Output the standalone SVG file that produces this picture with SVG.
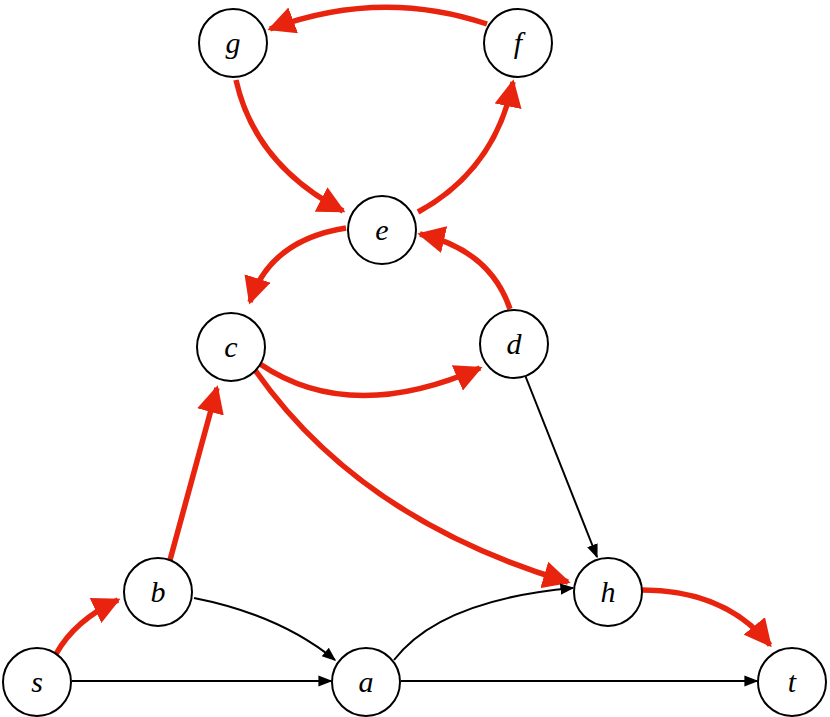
<svg xmlns="http://www.w3.org/2000/svg" width="830" height="717" viewBox="0 0 830 717">
<style>
.n circle{fill:#fff;stroke:#000;stroke-width:2}
.n text{font-family:"Liberation Serif",serif;font-style:italic;font-size:30px;text-anchor:middle}
.r{fill:none;stroke:#e8240f;stroke-width:5.5;marker-end:url(#ar)}
.k{fill:none;stroke:#000;stroke-width:2;marker-end:url(#ak)}
</style>
<defs>
<marker id="ar" viewBox="0 0 10 10" refX="9" refY="5" markerWidth="5" markerHeight="5" orient="auto" markerUnits="strokeWidth"><path d="M0,0L10,5L0,10z" fill="#e8240f"/></marker>
<marker id="ak" viewBox="0 0 10 10" refX="9" refY="5" markerWidth="7" markerHeight="7" orient="auto" markerUnits="strokeWidth"><path d="M0,1L10,5L0,9z" fill="#000"/></marker>
</defs>
<g id="edges">
<path class="r" d="M487,24 Q380,-12 270,29"/>
<path class="r" d="M236,80 Q255,165 343,211"/>
<path class="r" d="M418,212 Q495,170 513,82"/>
<path class="r" d="M346,228 Q270,240 250,302"/>
<path class="r" d="M510,309 Q490,250 420,234"/>
<path class="r" d="M260,364 Q350,425 480,368"/>
<path class="r" d="M170,560 L217,388"/>
<path class="r" d="M255,370 Q360,520 568,582"/>
<path class="r" d="M56,654 Q75,620 118,600"/>
<path class="r" d="M642,590 Q725,590 770,645"/>
<path class="k" d="M194,598 Q280,615 335,660"/>
<path class="k" d="M394,660 Q440,600 573,588"/>
<path class="k" d="M72,681 L331,681"/>
<path class="k" d="M401,681 L757,681"/>
<path class="k" d="M523,370 L597,557"/>
</g>
<g id="g" class="n"><circle cx="233" cy="43" r="34"/><text x="233" y="53">g</text></g>
<g id="f" class="n"><circle cx="518" cy="43" r="34"/><text x="518" y="53">f</text></g>
<g id="e" class="n"><circle cx="382" cy="230" r="34"/><text x="382" y="240">e</text></g>
<g id="c" class="n"><circle cx="231" cy="347" r="34"/><text x="231" y="357">c</text></g>
<g id="d" class="n"><circle cx="514" cy="344" r="34"/><text x="514" y="354">d</text></g>
<g id="b" class="n"><circle cx="158" cy="592" r="34"/><text x="158" y="602">b</text></g>
<g id="h" class="n"><circle cx="608" cy="592" r="34"/><text x="608" y="602">h</text></g>
<g id="s" class="n"><circle cx="37" cy="682" r="34"/><text x="37" y="692">s</text></g>
<g id="a" class="n"><circle cx="366" cy="682" r="34"/><text x="366" y="692">a</text></g>
<g id="t" class="n"><circle cx="792" cy="682" r="34"/><text x="792" y="692">t</text></g>
</svg>
